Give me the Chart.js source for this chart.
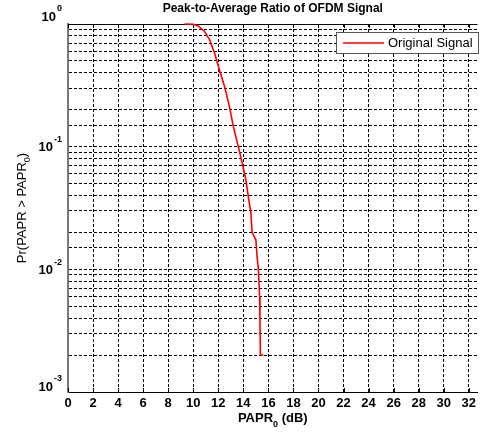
<!DOCTYPE html>
<html>
<head>
<meta charset="utf-8">
<script src="https://cdn.jsdelivr.net/npm/chart.js@4"></script>
<style>
  html, body { margin: 0; padding: 0; background: #fff; }
  #wrap { width: 480px; height: 443px; position: relative; }
</style>
</head>
<body>
<div id="wrap"><canvas id="paprChart"></canvas></div>
<script>
// --- data ---
const paprDb = [9.3, 10.0, 10.4, 10.9, 11.3, 11.7, 12.1, 12.5, 12.9, 13.2, 13.6, 13.9, 14.2, 14.4, 14.6, 14.7, 15.0, 15.1, 15.2, 15.3, 15.33, 15.36, 15.6];
const ccdf = [1, 0.995, 0.965, 0.87, 0.745, 0.58, 0.42, 0.31, 0.21, 0.146, 0.1, 0.074, 0.054, 0.039, 0.029, 0.02, 0.0174, 0.0126, 0.01, 0.006, 0.0039, 0.002, 0.002];
const xTicks = [0, 2, 4, 6, 8, 10, 12, 14, 16, 18, 20, 22, 24, 26, 28, 30, 32];
const yDecades = [0, -1, -2, -3];
const seriesName = 'Original Signal';
const titleText = 'Peak-to-Average Ratio of OFDM Signal';

const FONT = '"Liberation Sans", Arial, sans-serif';

// frame top + inner tick marks, drawn under the curve
const frame = {
    id: 'frame',
    beforeDatasetsDraw(chart) {
        const { ctx, chartArea: a, scales } = chart;
        ctx.save();
        ctx.strokeStyle = '#000';
        ctx.lineWidth = 1;
        ctx.setLineDash([]);
        ctx.beginPath();
        ctx.moveTo(a.left, a.top + 0.5);
        ctx.lineTo(a.right, a.top + 0.5);
        xTicks.forEach(v => {
            const px = Math.round(scales.x.getPixelForValue(v)) + 0.5;
            ctx.moveTo(px, a.bottom);
            ctx.lineTo(px, a.bottom - 4);
            ctx.moveTo(px, a.top);
            ctx.lineTo(px, a.top + 4);
        });
        ctx.stroke();
        ctx.restore();
    }
};

// title, axis titles (with subscripts), 10^n labels and legend
const decor = {
    id: 'decor',
    afterDraw(chart) {
        const { ctx, chartArea: a, scales } = chart;
        const cx = (a.left + a.right) / 2;
        ctx.save();
        ctx.fillStyle = '#000';

        // title
        ctx.font = 'bold 12px ' + FONT;
        ctx.textAlign = 'center';
        ctx.textBaseline = 'middle';
        ctx.fillText(titleText, cx, 9);

        // y tick labels 10^n
        const yOff = { '0': -7, '-3': -5 };
        yDecades.forEach(e => {
            const py = scales.y.getPixelForValue(Math.pow(10, e)) + (yOff[e] !== undefined ? yOff[e] : 1);
            const ex = String(e);
            ctx.font = 'bold 9px ' + FONT;
            const ew = ctx.measureText(ex).width;
            ctx.textAlign = 'left';
            ctx.textBaseline = 'middle';
            ctx.fillText(ex, a.left - 6 - ew, py - 8);
            ctx.font = 'bold 13px ' + FONT;
            ctx.textAlign = 'right';
            ctx.fillText('10', a.left - 7 - ew, py);
        });

        // x axis title: PAPR0 (dB)
        ctx.textBaseline = 'alphabetic';
        ctx.textAlign = 'left';
        const p1 = 'PAPR', p2 = ' (dB)';
        ctx.font = 'bold 13px ' + FONT;
        const w1 = ctx.measureText(p1).width, w3 = ctx.measureText(p2).width;
        ctx.font = 'bold 9px ' + FONT;
        const w2 = ctx.measureText('0').width;
        const sx = cx - (w1 + w2 + w3) / 2;
        ctx.font = 'bold 13px ' + FONT;
        ctx.fillText(p1, sx, 422);
        ctx.font = 'bold 9px ' + FONT;
        ctx.fillText('0', sx + w1, 427);
        ctx.font = 'bold 13px ' + FONT;
        ctx.fillText(p2, sx + w1 + w2, 422);

        // y axis title: Pr(PAPR > PAPR0)
        ctx.translate(26, (a.top + a.bottom) / 2);
        ctx.rotate(-Math.PI / 2);
        const q1 = 'Pr(PAPR > PAPR', q3 = ')';
        ctx.font = '13px ' + FONT;
        const v1 = ctx.measureText(q1).width, v3 = ctx.measureText(q3).width;
        ctx.font = '9px ' + FONT;
        const v2 = ctx.measureText('0').width;
        const tx = -(v1 + v2 + v3) / 2;
        ctx.font = '13px ' + FONT;
        ctx.fillText(q1, tx, 0);
        ctx.font = '9px ' + FONT;
        ctx.fillText('0', tx + v1, 4);
        ctx.font = '13px ' + FONT;
        ctx.fillText(q3, tx + v1 + v2, 0);
        ctx.setTransform(1, 0, 0, 1, 0, 0);

        // legend box
        const lx = 336, ly = 32, lw = 142, lh = 21;
        ctx.fillStyle = '#fff';
        ctx.fillRect(lx, ly, lw, lh);
        ctx.strokeStyle = '#555';
        ctx.lineWidth = 1;
        ctx.strokeRect(lx + 0.5, ly + 0.5, lw, lh);
        ctx.strokeStyle = '#ff0000';
        ctx.lineWidth = 1.5;
        ctx.beginPath();
        ctx.moveTo(343, ly + 11);
        ctx.lineTo(384, ly + 11);
        ctx.stroke();
        ctx.fillStyle = '#000';
        ctx.font = '13px ' + FONT;
        ctx.textAlign = 'left';
        ctx.textBaseline = 'middle';
        ctx.fillText(seriesName, 388, ly + 11.5);
        ctx.restore();
    }
};

const initChart = () => {
    const ctx = document.getElementById('paprChart');
    new Chart(ctx, {
        type: 'line',
        data: {
            datasets: [{
                label: seriesName,
                data: paprDb.map((x, i) => ({ x: x, y: ccdf[i] })),
                borderColor: '#ff0000',
                borderWidth: 1.6,
                pointRadius: 0,
                tension: 0,
                fill: false,
                clip: 3
            }]
        },
        options: {
            responsive: true,
            maintainAspectRatio: false,
            animation: false,
            layout: { padding: { top: 24, right: 0, left: 0, bottom: 0 } },
            plugins: { legend: { display: false }, tooltip: { enabled: false } },
            scales: {
                x: {
                    type: 'linear',
                    min: 0,
                    max: 32.7,
                    afterBuildTicks: s => { s.ticks = xTicks.map(v => ({ value: v })); },
                    afterFit: s => { s.height = 51; },
                    grid: { color: '#000', lineWidth: 1, drawTicks: false },
                    border: { color: '#000', width: 1, dash: [3, 2] },
                    ticks: {
                        color: '#000',
                        padding: 4,
                        maxRotation: 0,
                        autoSkip: false,
                        font: { family: FONT, size: 13, weight: 'bold' },
                        callback: v => String(v)
                    }
                },
                y: {
                    type: 'logarithmic',
                    min: 0.001,
                    max: 1,
                    afterFit: s => { s.width = 68; },
                    grid: { color: '#000', lineWidth: 1, drawTicks: false },
                    border: { color: '#777', width: 2, dash: [3, 2] },
                    ticks: { display: false, autoSkip: false }
                }
            }
        },
        plugins: [frame, decor]
    });
};

document.addEventListener('DOMContentLoaded', initChart);
</script>
</body>
</html>
